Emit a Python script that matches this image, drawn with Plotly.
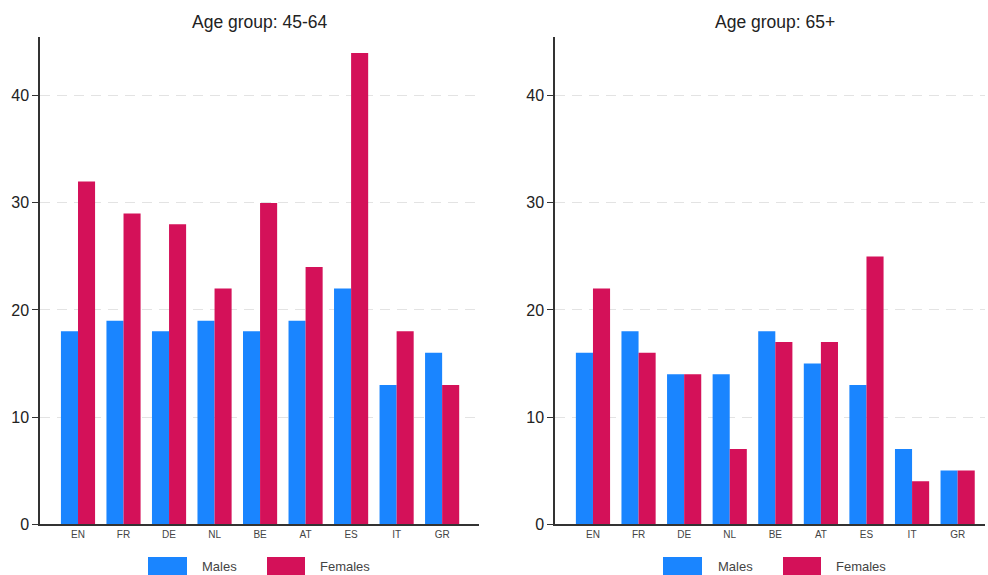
import plotly.graph_objects as go

countries = ["EN", "FR", "DE", "NL", "BE", "AT", "ES", "IT", "GR"]
males_45_64 = [18, 19, 18, 19, 18, 19, 22, 13, 16]
females_45_64 = [32, 29, 28, 22, 30, 24, 44, 18, 13]
males_65 = [16, 18, 14, 14, 18, 15, 13, 7, 5]
females_65 = [22, 16, 14, 7, 17, 17, 25, 4, 5]
titles = ["Age group: 45-64", "Age group: 65+"]
y_ticks = [0, 10, 20, 30, 40]

BLUE = "#1A85FF"
RED = "#D41159"
W, H = 988, 575
H_EFF = 567  # empirical vertical calibration of the rendered page
FONT = "Liberation Sans, Arial, sans-serif"

fig = go.Figure()
panels = [(males_45_64, females_45_64, "x", "y"), (males_65, females_65, "x2", "y2")]
for m, f, xa, ya in panels:
    fig.add_trace(go.Bar(x=countries, y=m, marker=dict(color=BLUE, line=dict(width=0)),
                         xaxis=xa, yaxis=ya, showlegend=False, name="Males"))
    fig.add_trace(go.Bar(x=countries, y=f, marker=dict(color=RED, line=dict(width=0)),
                         xaxis=xa, yaxis=ya, showlegend=False, name="Females"))

def px_x(p):
    return p / W

def px_y(p):
    return 1 - p / H_EFF

yax = dict(range=[0, 45.5], tickvals=y_ticks, showgrid=True, gridcolor="#e3e3e3",
           griddash="10px,7px", gridwidth=1.2, showline=True, linecolor="#333333", linewidth=1.5,
           ticks="outside", ticklen=6, tickcolor="#333333", tickwidth=1.2,
           tickfont=dict(size=16, color="#222222", family=FONT), zeroline=False,
           domain=[px_y(525), px_y(37)], fixedrange=True)
xax = dict(showline=True, linecolor="#333333", linewidth=1.5, ticks="", showgrid=False,
           tickfont=dict(size=10, color="#444444", family=FONT), type="category")

fig.update_layout(
    width=W, height=H, margin=dict(l=0, r=0, t=0, b=0),
    paper_bgcolor="white", plot_bgcolor="white",
    barmode="group", bargap=0.25, bargroupgap=0,
    font=dict(family=FONT),
    xaxis=dict(xax, domain=[px_x(40), px_x(479)], range=[-0.835, 8.81], anchor="y"),
    yaxis=dict(yax, anchor="x"),
    xaxis2=dict(xax, domain=[px_x(555), px_x(985)], range=[-0.833, 8.6], anchor="y2"),
    yaxis2=dict(yax, anchor="x2"),
)

annotations = []
for t, cx in zip(titles, [260, 775]):
    annotations.append(dict(text=t, x=px_x(cx), y=px_y(22), xref="paper", yref="paper",
                            xanchor="center", yanchor="middle", showarrow=False,
                            font=dict(size=17.5, color="#222222", family=FONT)))

shapes = []
legend_items = [(148, 187, 200, "Males", BLUE), (267, 305, 318, "Females", RED),
                (663, 702, 716, "Males", BLUE), (783, 821, 834, "Females", RED)]
for x0, x1, tx, label, col in legend_items:
    shapes.append(dict(type="rect", xref="paper", yref="paper", x0=px_x(x0), x1=px_x(x1),
                       y0=px_y(578), y1=px_y(558), fillcolor=col, line=dict(width=0)))
    annotations.append(dict(text=label, x=px_x(tx), y=px_y(567), xref="paper", yref="paper",
                            xanchor="left", yanchor="middle", showarrow=False,
                            font=dict(size=13, color="#444444", family=FONT)))

fig.update_layout(annotations=annotations, shapes=shapes)
fig.write_html("out.html")
